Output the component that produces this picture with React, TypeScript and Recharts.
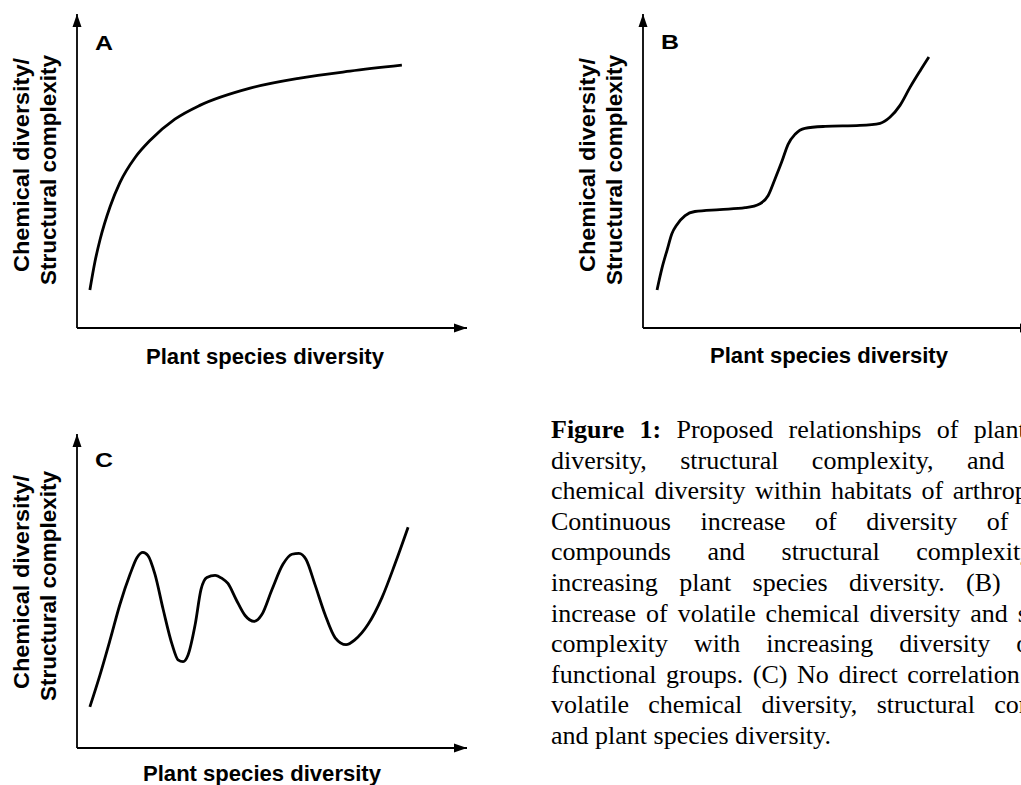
import React from 'react';
import { LineChart, Line, XAxis, YAxis, ReferenceDot, ReferenceLine } from 'recharts';

// Panel A: continuous saturating increase
const panelAX = [3.3, 4.6, 5.9, 8.5, 11.0, 14.9, 18.7, 25.1, 31.5, 44.4, 57.2, 70.0, 83.3];
const panelAY = [12.1, 21.1, 28.1, 38.7, 46.3, 54.3, 59.7, 66.5, 70.9, 76.4, 79.6, 81.8, 83.7];

// Panel B: stepwise increase
const panelBX = [3.6, 4.9, 6.2, 7.4, 8.7, 10.8, 13.3, 19.7, 26.2, 30.0, 32.1, 33.8, 35.6, 37.2, 39.0, 41.5, 46.7, 55.6, 60.8, 63.3, 65.9, 68.5, 71.0, 73.3];
const panelBY = [12.1, 19.2, 24.9, 30.0, 32.9, 35.8, 37.1, 37.7, 38.3, 39.6, 42.2, 47.3, 53.0, 58.5, 61.7, 63.6, 64.2, 64.5, 65.2, 67.1, 70.9, 76.7, 81.8, 86.3];

// Panel C: no direct correlation
const panelCX = [3.3, 5.9, 8.5, 11.0, 13.6, 15.4, 16.9, 18.2, 20.0, 22.1, 24.4, 25.9, 27.2, 28.5, 30.3, 31.8, 33.3, 35.4, 37.2, 38.7, 40.8, 43.1, 45.4, 47.4, 50.0, 52.8, 55.1, 56.9, 58.7, 61.0, 63.6, 66.2, 69.0, 71.3, 74.6, 78.2, 81.5, 84.9];
const panelCY = [13.1, 23.3, 34.5, 45.7, 55.3, 60.7, 62.3, 61.3, 55.3, 44.1, 32.9, 28.1, 27.5, 29.7, 39.3, 50.5, 54.3, 55.0, 54.0, 52.4, 47.3, 42.2, 40.3, 42.5, 50.5, 58.5, 61.7, 62.0, 60.1, 52.1, 42.5, 35.1, 32.9, 34.5, 39.3, 47.9, 58.5, 70.3];

const panelLetters = ['A', 'B', 'C'];
const yLabelLines = ['Chemical diversity/', 'Structural complexity'];
const xLabelText = 'Plant species diversity';

const captionBold = 'Figure 1:';
const captionLines = [
  ' Proposed relationships of plant species',
  'diversity, structural complexity, and volatile',
  'chemical diversity within habitats of arthropods. (A)',
  'Continuous increase of diversity of volatile',
  'compounds and structural complexity with',
  'increasing plant species diversity. (B) Stepwise',
  'increase of volatile chemical diversity and structural',
  'complexity with increasing diversity of plant',
  'functional groups. (C) No direct correlation between',
  'volatile chemical diversity, structural complexity,',
  'and plant species diversity.',
];

const toRows = (xs: number[], ys: number[]) => xs.map((x, i) => ({ x, y: ys[i] }));

const INK = '#000';

const RightArrow = (p: any) => (
  <polygon
    points={`${p.cx},${p.cy} ${p.cx - 13},${p.cy - 4.5} ${p.cx - 13},${p.cy + 4.5}`}
    fill={INK}
  />
);
const UpArrow = (p: any) => (
  <polygon
    points={`${p.cx},${p.cy} ${p.cx - 4.5},${p.cy + 13} ${p.cx + 4.5},${p.cy + 13}`}
    fill={INK}
  />
);

type PanelProps = {
  left: number;
  top: number;
  width: number;
  height: number;
  margin: { top: number; right: number; bottom: number; left: number };
  xs: number[];
  ys: number[];
};

const Panel = ({ left, top, width, height, margin, xs, ys }: PanelProps) => (
  <div style={{ position: 'absolute', left, top, width, height }}>
    <LineChart width={width} height={height} data={toRows(xs, ys)} margin={margin}>
      <XAxis type="number" dataKey="x" domain={[0, 100]} hide />
      <YAxis type="number" domain={[0, 100]} hide />
      <ReferenceLine y={0} stroke={INK} strokeWidth={1.8} ifOverflow="visible" />
      <ReferenceLine x={0} stroke={INK} strokeWidth={1.8} ifOverflow="visible" />
      <Line
        type="monotone"
        dataKey="y"
        stroke={INK}
        strokeWidth={2.8}
        dot={false}
        activeDot={false}
        isAnimationActive={false}
      />
      <ReferenceDot x={100} y={0} r={0} ifOverflow="visible" shape={RightArrow} />
      <ReferenceDot x={0} y={100} r={0} ifOverflow="visible" shape={UpArrow} />
    </LineChart>
  </div>
);

const sans = '"Liberation Sans", Arial, sans-serif';

const YLabel = ({ x1, x2, c1, c2 }: { x1: number; x2: number; c1: number; c2: number }) => (
  <>
    <text
      x={x1}
      y={c1}
      transform={`rotate(-90 ${x1} ${c1})`}
      textAnchor="middle"
      fontFamily={sans}
      fontWeight="bold"
      fontSize={22}
      textLength={214}
      lengthAdjust="spacingAndGlyphs"
      fill={INK}
    >
      {yLabelLines[0]}
    </text>
    <text
      x={x2}
      y={c2}
      transform={`rotate(-90 ${x2} ${c2})`}
      textAnchor="middle"
      fontFamily={sans}
      fontWeight="bold"
      fontSize={22}
      textLength={230}
      lengthAdjust="spacingAndGlyphs"
      fill={INK}
    >
      {yLabelLines[1]}
    </text>
  </>
);

const XLabel = ({ cx, y }: { cx: number; y: number }) => (
  <text
    x={cx}
    y={y}
    textAnchor="middle"
    fontFamily={sans}
    fontWeight="bold"
    fontSize={22}
    textLength={238}
    lengthAdjust="spacingAndGlyphs"
    fill={INK}
  >
    {xLabelText}
  </text>
);

const Letter = ({ x, y, t }: { x: number; y: number; t: string }) => (
  <text
    x={x}
    y={y}
    fontFamily={sans}
    fontWeight="bold"
    fontSize={20}
    textLength={18}
    lengthAdjust="spacingAndGlyphs"
    fill={INK}
  >
    {t}
  </text>
);

export default function App() {
  return (
    <div
      style={{
        position: 'absolute',
        left: 0,
        top: 0,
        width: 1021,
        height: 785,
        overflow: 'hidden',
        background: '#fff',
      }}
    >
      <Panel
        left={0}
        top={0}
        width={500}
        height={390}
        margin={{ top: 14, right: 33, bottom: 62, left: 77 }}
        xs={panelAX}
        ys={panelAY}
      />
      <Panel
        left={560}
        top={0}
        width={500}
        height={390}
        margin={{ top: 14, right: 27, bottom: 62, left: 83 }}
        xs={panelBX}
        ys={panelBY}
      />
      <Panel
        left={0}
        top={400}
        width={500}
        height={385}
        margin={{ top: 34, right: 33, bottom: 37, left: 77 }}
        xs={panelCX}
        ys={panelCY}
      />

      <svg
        width={1021}
        height={785}
        style={{ position: 'absolute', left: 0, top: 0, pointerEvents: 'none' }}
      >
        <Letter x={95} y={50} t={panelLetters[0]} />
        <Letter x={661} y={49} t={panelLetters[1]} />
        <Letter x={95} y={467} t={panelLetters[2]} />
        <YLabel x1={29} x2={56} c1={165} c2={170} />
        <YLabel x1={594.5} x2={621.5} c1={165} c2={170} />
        <YLabel x1={29} x2={56} c1={582} c2={586} />
        <XLabel cx={265} y={364} />
        <XLabel cx={829} y={363} />
        <XLabel cx={262} y={781} />
      </svg>

      {captionLines.map((line, i) => {
        const last = i === captionLines.length - 1;
        return (
          <div
            key={i}
            style={{
              position: 'absolute',
              left: 551,
              top: 415 + i * 30.6,
              width: 565,
              fontFamily: '"Liberation Serif", "Times New Roman", serif',
              fontSize: 26,
              lineHeight: '30.6px',
              color: INK,
              textAlign: last ? 'left' : 'justify',
              textAlignLast: last ? 'left' : 'justify',
              whiteSpace: 'nowrap',
            }}
          >
            {i === 0 ? <b>{captionBold}</b> : null}
            {line}
          </div>
        );
      })}
    </div>
  );
}
